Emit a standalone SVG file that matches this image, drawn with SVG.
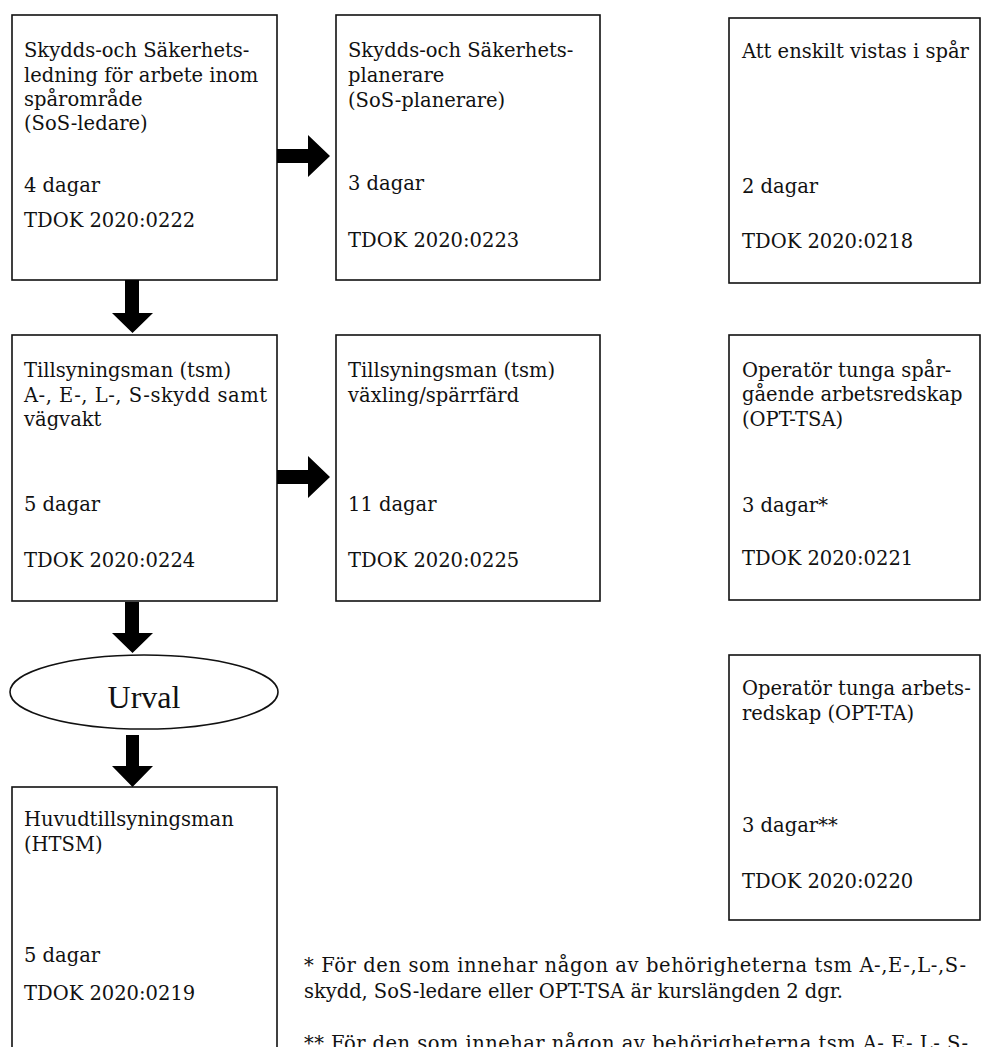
<svg xmlns="http://www.w3.org/2000/svg" width="982" height="1047" viewBox="0 0 982 1047">
<style>
.box{fill:#fff;stroke:#111;stroke-width:1.6}
.t{font-family:"DejaVu Serif","Liberation Serif",serif;font-size:19.5px;fill:#111}
.u{font-family:"Liberation Serif",serif;font-size:32px;fill:#111}
.arrow{fill:#000;stroke:none}
</style>
<rect width="982" height="1047" fill="#fff"/>
<g id="sos-ledare">
<rect class="box" x="12" y="15" width="265" height="265"/>
<text class="t" x="24" y="57">Skydds-och Säkerhets-</text>
<text class="t" x="24" y="82">ledning för arbete inom</text>
<text class="t" x="24" y="106">spårområde</text>
<text class="t" x="24" y="130">(SoS-ledare)</text>
<text class="t" x="24" y="192">4 dagar</text>
<text class="t" x="24" y="227">TDOK 2020:0222</text>
</g>
<g id="sos-planerare">
<rect class="box" x="336" y="15" width="264" height="265"/>
<text class="t" x="348" y="57">Skydds-och Säkerhets-</text>
<text class="t" x="348" y="82">planerare</text>
<text class="t" x="348" y="107">(SoS-planerare)</text>
<text class="t" x="348" y="190">3 dagar</text>
<text class="t" x="348" y="247">TDOK 2020:0223</text>
</g>
<g id="enskilt">
<rect class="box" x="729" y="18" width="251" height="265"/>
<text class="t" x="742" y="58">Att enskilt vistas i spår</text>
<text class="t" x="742" y="193">2 dagar</text>
<text class="t" x="742" y="248">TDOK 2020:0218</text>
</g>
<g id="tsm">
<rect class="box" x="12" y="335" width="265" height="266"/>
<text class="t" x="24" y="377">Tillsyningsman (tsm)</text>
<text class="t" x="24" y="402" textLength="243" lengthAdjust="spacing">A-, E-, L-, S-skydd samt</text>
<text class="t" x="24" y="426">vägvakt</text>
<text class="t" x="24" y="511">5 dagar</text>
<text class="t" x="24" y="567">TDOK 2020:0224</text>
</g>
<g id="tsm-vaxling">
<rect class="box" x="336" y="335" width="264" height="266"/>
<text class="t" x="348" y="377">Tillsyningsman (tsm)</text>
<text class="t" x="348" y="402">växling/spärrfärd</text>
<text class="t" x="348" y="511">11 dagar</text>
<text class="t" x="348" y="567">TDOK 2020:0225</text>
</g>
<g id="opt-tsa">
<rect class="box" x="729" y="335" width="251" height="265"/>
<text class="t" x="742" y="377">Operatör tunga spår-</text>
<text class="t" x="742" y="401">gående arbetsredskap</text>
<text class="t" x="742" y="426">(OPT-TSA)</text>
<text class="t" x="742" y="512">3 dagar*</text>
<text class="t" x="742" y="565">TDOK 2020:0221</text>
</g>
<g id="urval">
<ellipse class="box" cx="144" cy="692" rx="134" ry="37"/>
<text class="u" x="144" y="708" text-anchor="middle">Urval</text>
</g>
<g id="htsm">
<rect class="box" x="12" y="787" width="265" height="300"/>
<text class="t" x="24" y="826">Huvudtillsyningsman</text>
<text class="t" x="24" y="851">(HTSM)</text>
<text class="t" x="24" y="962">5 dagar</text>
<text class="t" x="24" y="1000">TDOK 2020:0219</text>
</g>
<g id="opt-ta">
<rect class="box" x="729" y="655" width="251" height="265"/>
<text class="t" x="742" y="695">Operatör tunga arbets-</text>
<text class="t" x="742" y="720">redskap (OPT-TA)</text>
<text class="t" x="742" y="832">3 dagar**</text>
<text class="t" x="742" y="888">TDOK 2020:0220</text>
</g>
<g id="footnotes">
<text class="t" x="304" y="972" textLength="662" lengthAdjust="spacing">* För den som innehar någon av behörigheterna tsm A-,E-,L-,S-</text>
<text class="t" x="304" y="998" textLength="539" lengthAdjust="spacing">skydd, SoS-ledare eller OPT-TSA är kurslängden 2 dgr.</text>
<text class="t" x="304" y="1050" textLength="664" lengthAdjust="spacing">** För den som innehar någon av behörigheterna tsm A-,E-,L-,S-</text>
</g>
<g id="connectors">
<path class="arrow" d="M277,149 H308 V135 L330,156 L308,177 V163 H277 Z"/>
<path class="arrow" d="M277,470 H308 V456 L330,477 L308,498 V484 H277 Z"/>
<path class="arrow" d="M125,280 V313 H112 L132.5,333 L153,313 H139 V280 Z"/>
<path class="arrow" d="M125,602 V633 H112 L132.5,653 L153,633 H139 V602 Z"/>
<path class="arrow" d="M126,735 V766 H112 L132.5,787 L153,766 H139 V735 Z"/>
</g>
</svg>
